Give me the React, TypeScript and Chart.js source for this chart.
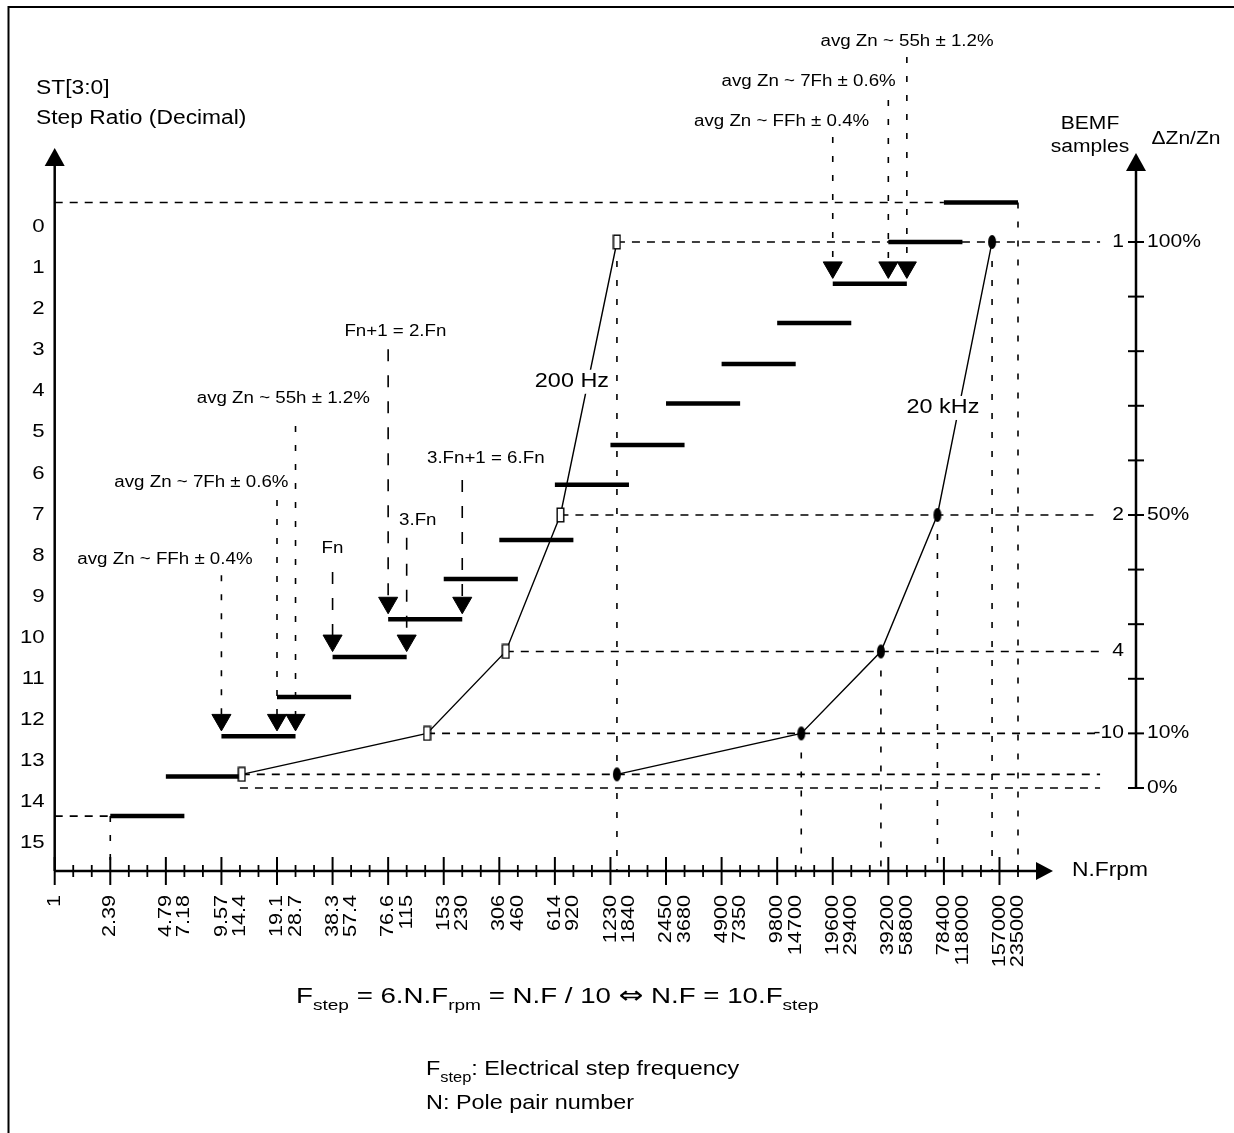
import React, { useEffect, useRef } from "react";
import { Chart, registerables } from "chart.js";

Chart.register(...registerables);

const W = 1234;
const H = 1133;
const FONT = '"Liberation Sans", Arial, Helvetica, sans-serif';
const SYM_FONT = '"DejaVu Sans", sans-serif';
const SX = 1.17;

// ---------------- data ----------------
// x axis (N.Frpm): one unit per minor tick, a major tick every 3 units
const xMajorTicks = [0, 3, 6, 9, 12, 15, 18, 21, 24, 27, 30, 33, 36, 39, 42, 45, 48, 51];
const xMinorTicks = [1, 2, 4, 5, 7, 8, 10, 11, 13, 14, 16, 17, 19, 20, 22, 23, 25, 26, 28, 29, 31, 32, 34, 35, 37, 38, 40, 41, 43, 44, 46, 47, 49, 50, 52];
const xLabelPos = [0, 3, 6, 7, 9, 10, 12, 13, 15, 16, 18, 19, 21, 22, 24, 25, 27, 28, 30, 31, 33, 34, 36, 37, 39, 40, 42, 43, 45, 46, 48, 49, 51, 52];
const xLabels = ["1", "2.39", "4.79", "7.18", "9.57", "14.4", "19.1", "28.7", "38.3", "57.4", "76.6", "115", "153", "230", "306", "460", "614", "920", "1230", "1840", "2450", "3680", "4900", "7350", "9800", "14700", "19600", "29400", "39200", "58800", "78400", "118000", "157000", "235000"];

// left axis ST[3:0]
const stLabelPos = [0, 1, 2, 3, 4, 5, 6, 7, 8, 9, 10, 11, 12, 13, 14, 15];
const stLabels = ["0", "1", "2", "3", "4", "5", "6", "7", "8", "9", "10", "11", "12", "13", "14", "15"];

// step-ratio bars
const stepLevel = [14.34, 13.38, 12.4, 11.44, 10.47, 9.55, 8.57, 7.62, 6.28, 5.31, 4.3, 3.34, 2.34, 1.39, 0.37, -0.59];
const stepFrom = [3, 6, 9, 12, 15, 18, 21, 24, 27, 30, 33, 36, 39, 42, 45, 48];
const stepTo = [7, 10, 13, 16, 19, 22, 25, 28, 31, 34, 37, 40, 43, 46, 49, 52];

// right axis (ΔZn/Zn, %)
const pctTicks = [0, 10, 20, 30, 40, 50, 60, 70, 80, 90, 100];
const pctLabelPos = [100, 50, 10, 0];
const pctLabels = ["100%", "50%", "10%", "0%"];
const bemfPos = [100, 50, 25, 10];
const bemfLabels = ["1", "2", "4", "-10"];

// curves
const curvePct = [2.5, 10, 25, 50, 100];
const curve200Hz = [10.1, 20.1, 24.35, 27.3, 30.35];
const curve20kHz = [30.35, 40.3, 44.6, 47.65, 50.6];

// annotations (arrows onto bars)
const annTexts = ["avg Zn ~ FFh ± 0.4%", "avg Zn ~ 7Fh ± 0.6%", "avg Zn ~ 55h ± 1.2%", "Fn", "3.Fn", "Fn+1 = 2.Fn", "3.Fn+1 = 6.Fn", "avg Zn ~ FFh ± 0.4%", "avg Zn ~ 7Fh ± 0.6%", "avg Zn ~ 55h ± 1.2%"];
const annTargetX = [9, 12, 13, 15, 19, 18, 22, 42, 45, 46];
const annBarIndex = [2, 2, 2, 4, 4, 5, 5, 13, 13, 13];

// ---------------- layout ----------------
const X_MIN = -2.953;
const X_MAX = 63.66;
const Y_MIN = -5.516;
const Y_MAX = 22.051;
const P_MIN = -63.19;
const P_MAX = 144.32;

const X_AXIS_AT = 15.676; // left-scale value of the N.Frpm axis
const LEFT_AXIS_TOP = -1.915;
const X_AXIS_END = 53.89;
const RIGHT_AXIS_AT = 58.37;
const RIGHT_AXIS_TOP = 116.3;
const GUIDE_END = 56.43;
const ARROW_LIFT = 0.4;

// text position / dashed start for each annotation (x units, left-scale units)
const annLayout = [
  { tx: 5.95, ty: 8.11, from: 8.48, dash: [6, 13] },
  { tx: 7.92, ty: 6.23, from: 6.65, dash: [6, 13] },
  { tx: 12.34, ty: 4.19, from: 4.85, dash: [6, 13] },
  { tx: 14.99, ty: 7.82, from: 8.4, dash: [12, 14] },
  { tx: 19.6, ty: 7.14, from: 7.57, dash: [12, 14] },
  { tx: 18.39, ty: 2.56, from: 2.98, dash: [12, 14] },
  { tx: 23.27, ty: 5.65, from: 6.16, dash: [12, 14] },
  { tx: 39.24, ty: -2.55, from: -2.18, dash: [6, 13] },
  { tx: 40.7, ty: -3.53, from: -3.08, dash: [6, 13] },
  { tx: 46.01, ty: -4.5, from: -4.13, dash: [6, 13] },
];

function drawText(
  ctx: CanvasRenderingContext2D,
  s: string,
  x: number,
  y: number,
  size: number,
  align: string = "left",
  baseline: CanvasTextBaseline = "middle",
  sx: number = SX,
  family: string = FONT
) {
  ctx.save();
  ctx.font = `${size}px ${family}`;
  ctx.textBaseline = baseline;
  ctx.textAlign = "left";
  const w = ctx.measureText(s).width * sx;
  const x0 = align === "center" ? x - w / 2 : align === "right" ? x - w : x;
  ctx.translate(x0, y);
  ctx.scale(sx, 1);
  ctx.fillStyle = "#000";
  ctx.fillText(s, 0, 0);
  ctx.restore();
  return w;
}

// runs: [text, kind] where kind 0 = normal, 1 = subscript, 2 = symbol
function drawRuns(
  ctx: CanvasRenderingContext2D,
  parts: [string, number][],
  x: number,
  y: number,
  size: number,
  subSize: number,
  subDrop: number,
  sx: number
) {
  let cx = x;
  for (const [s, kind] of parts) {
    if (kind === 1) cx += drawText(ctx, s, cx, y + subDrop, subSize, "left", "alphabetic", sx);
    else if (kind === 2) cx += drawText(ctx, s, cx, y, size * 1.05, "left", "alphabetic", 1.25, SYM_FONT);
    else cx += drawText(ctx, s, cx, y, size, "left", "alphabetic", sx);
  }
}

const diagramPlugin = {
  id: "diagram",
  beforeDatasetsDraw(chart: any) {
    const ctx: CanvasRenderingContext2D = chart.ctx;
    const X = (v: number) => chart.scales.x.getPixelForValue(v);
    const Y = (v: number) => chart.scales.y.getPixelForValue(v);
    const P = (v: number) => chart.scales.y2.getPixelForValue(v);
    const axisY = Y(X_AXIS_AT);
    ctx.save();
    ctx.strokeStyle = "#000";
    ctx.lineWidth = 1.6;
    const seg = (x1: number, y1: number, x2: number, y2: number, dash: number[]) => {
      ctx.setLineDash(dash);
      ctx.beginPath();
      ctx.moveTo(x1, y1);
      ctx.lineTo(x2, y2);
      ctx.stroke();
    };
    const hd = [8, 7];
    const vd = [6, 13];
    const top = stepLevel.length - 1;
    // horizontal guides
    seg(X(0), Y(stepLevel[top]), X(stepFrom[top]), Y(stepLevel[top]), hd);
    seg(X(0), Y(stepLevel[0]), X(stepFrom[0]), Y(stepLevel[0]), hd);
    curvePct.forEach((p, i) => seg(X(curve200Hz[i]), P(p), X(GUIDE_END), P(p), hd));
    seg(X(stepTo[1]), P(0), X(GUIDE_END), P(0), hd);
    // vertical guides
    seg(X(stepFrom[0]), Y(stepLevel[0]), X(stepFrom[0]), axisY, vd);
    seg(X(stepTo[top]), Y(stepLevel[top]), X(stepTo[top]), axisY, vd);
    seg(X(curve200Hz[4]), P(curvePct[4]), X(curve200Hz[4]), axisY, vd);
    for (let i = 1; i < curve20kHz.length; i++) {
      seg(X(curve20kHz[i]), P(curvePct[i]), X(curve20kHz[i]), axisY, vd);
    }
    // annotation drop lines
    annTargetX.forEach((ax, i) => {
      const lay = annLayout[i];
      seg(X(ax), Y(lay.from), X(ax), Y(stepLevel[annBarIndex[i]] - ARROW_LIFT), lay.dash);
    });
    ctx.restore();
  },
  afterDatasetsDraw(chart: any) {
    const ctx: CanvasRenderingContext2D = chart.ctx;
    const X = (v: number) => chart.scales.x.getPixelForValue(v);
    const Y = (v: number) => chart.scales.y.getPixelForValue(v);
    const P = (v: number) => chart.scales.y2.getPixelForValue(v);
    const axisY = Y(X_AXIS_AT);
    const axisX = X(0);
    const rx = X(RIGHT_AXIS_AT);

    ctx.save();
    ctx.setLineDash([]);
    ctx.strokeStyle = "#000";
    ctx.fillStyle = "#000";

    // frame
    ctx.lineWidth = 2;
    ctx.beginPath();
    ctx.moveTo(8.5, H);
    ctx.lineTo(8.5, 7);
    ctx.lineTo(W, 7);
    ctx.stroke();

    const tri = (pts: number[][]) => {
      ctx.beginPath();
      ctx.moveTo(pts[0][0], pts[0][1]);
      ctx.lineTo(pts[1][0], pts[1][1]);
      ctx.lineTo(pts[2][0], pts[2][1]);
      ctx.closePath();
      ctx.fill();
    };

    // left axis
    const lTop = Y(LEFT_AXIS_TOP);
    ctx.lineWidth = 2.5;
    ctx.beginPath();
    ctx.moveTo(axisX, axisY);
    ctx.lineTo(axisX, lTop + 16);
    ctx.stroke();
    tri([[axisX, lTop], [axisX - 10, lTop + 18], [axisX + 10, lTop + 18]]);

    // x axis
    const xEnd = X(X_AXIS_END);
    ctx.beginPath();
    ctx.moveTo(axisX, axisY);
    ctx.lineTo(xEnd - 14, axisY);
    ctx.stroke();
    tri([[xEnd, axisY], [xEnd - 17, axisY - 9], [xEnd - 17, axisY + 9]]);
    ctx.lineWidth = 2;
    xMajorTicks.forEach((t) => {
      ctx.beginPath();
      ctx.moveTo(X(t), axisY - 14);
      ctx.lineTo(X(t), axisY + 14);
      ctx.stroke();
    });
    ctx.lineWidth = 1.8;
    xMinorTicks.forEach((t) => {
      ctx.beginPath();
      ctx.moveTo(X(t), axisY - 6);
      ctx.lineTo(X(t), axisY + 6);
      ctx.stroke();
    });

    // right axis
    const rTop = P(RIGHT_AXIS_TOP);
    ctx.lineWidth = 2.5;
    ctx.beginPath();
    ctx.moveTo(rx, P(0) + 1);
    ctx.lineTo(rx, rTop + 16);
    ctx.stroke();
    tri([[rx, rTop], [rx - 10, rTop + 18], [rx + 10, rTop + 18]]);
    ctx.lineWidth = 2;
    pctTicks.forEach((t) => {
      ctx.beginPath();
      ctx.moveTo(rx - 8, P(t));
      ctx.lineTo(rx + 8, P(t));
      ctx.stroke();
    });

    // left tick labels
    stLabelPos.forEach((v, i) => drawText(ctx, stLabels[i], axisX - 10, Y(v), 19, "right"));

    // x tick labels (rotated)
    xLabelPos.forEach((v, i) => {
      ctx.save();
      ctx.font = `18.5px ${FONT}`;
      ctx.translate(X(v), axisY + 24);
      ctx.rotate(-Math.PI / 2);
      ctx.scale(SX, 1);
      ctx.textAlign = "right";
      ctx.textBaseline = "middle";
      ctx.fillStyle = "#000";
      ctx.fillText(xLabels[i], 0, 0);
      ctx.restore();
    });

    // right labels
    bemfPos.forEach((v, i) => drawText(ctx, bemfLabels[i], rx - 12, P(v), 18, "right"));
    pctLabelPos.forEach((v, i) => drawText(ctx, pctLabels[i], rx + 11, P(v), 18, "left"));

    // axis titles
    drawText(ctx, "ST[3:0]", 36, 89, 19.5);
    drawText(ctx, "Step Ratio (Decimal)", 36, 119, 19.5);
    drawText(ctx, "BEMF", 1090, 124, 18, "center");
    drawText(ctx, "samples", 1090, 147, 18, "center");
    drawText(ctx, "\u0394Zn/Zn", 1186, 139, 18, "center");
    drawText(ctx, "N.Frpm", 1072, axisY, 19.5);

    // annotations
    annTexts.forEach((s, i) => {
      const lay = annLayout[i];
      drawText(ctx, s, X(lay.tx), Y(lay.ty), 16, "center");
    });

    // curve labels with white knock-out
    const curveLabel = (s: string, xv: number, pv: number) => {
      ctx.save();
      ctx.font = `20px ${FONT}`;
      const w = ctx.measureText(s).width * SX;
      ctx.fillStyle = "#fff";
      ctx.fillRect(X(xv) - w / 2 - 2, P(pv) - 12, w + 4, 24);
      ctx.restore();
      drawText(ctx, s, X(xv), P(pv), 20, "center");
    };
    curveLabel("200 Hz", 27.92, 74.4);
    curveLabel("20 kHz", 47.95, 69.6);

    // formula and notes
    drawRuns(
      ctx,
      [
        ["F", 0],
        ["step", 1],
        [" = 6.N.F", 0],
        ["rpm", 1],
        [" = N.F / 10 ", 0],
        ["\u21D4", 2],
        [" N.F = 10.F", 0],
        ["step", 1],
      ],
      296,
      1003,
      22.5,
      15.5,
      7,
      1.23
    );
    drawRuns(ctx, [["F", 0], ["step", 1], [": Electrical step frequency", 0]], 426, 1075, 20, 14, 7, SX);
    drawRuns(ctx, [["N: Pole pair number", 0]], 426, 1109, 20, 14, 7, SX);

    ctx.restore();
  },
};

export default function App() {
  const ref = useRef<HTMLCanvasElement>(null);
  useEffect(() => {
    const canvas = ref.current;
    if (!canvas) return;

    const rectMarker = document.createElement("canvas");
    rectMarker.width = 9;
    rectMarker.height = 16;
    {
      const c = rectMarker.getContext("2d")!;
      c.fillStyle = "#fff";
      c.fillRect(1, 1, 7, 14);
      c.strokeStyle = "#000";
      c.lineWidth = 1.4;
      c.strokeRect(1.2, 1.2, 6.6, 13.6);
    }
    const dotMarker = document.createElement("canvas");
    dotMarker.width = 10;
    dotMarker.height = 16;
    {
      const c = dotMarker.getContext("2d")!;
      c.fillStyle = "#000";
      c.beginPath();
      c.ellipse(5, 8, 4, 7, 0, 0, Math.PI * 2);
      c.fill();
    }

    const datasets: any[] = [];
    stepLevel.forEach((lv, i) => {
      datasets.push({
        type: "line",
        data: [
          { x: stepFrom[i], y: lv },
          { x: stepTo[i], y: lv },
        ],
        yAxisID: "y",
        borderColor: "#000",
        borderWidth: 4.5,
        borderCapStyle: "butt",
        pointRadius: 0,
        order: 3,
      });
    });
    datasets.push({
      type: "line",
      label: "200 Hz",
      data: curvePct.map((p, i) => ({ x: curve200Hz[i], y: p })),
      yAxisID: "y2",
      borderColor: "#000",
      borderWidth: 1.4,
      pointStyle: rectMarker,
      pointRadius: 6,
      order: 2,
    });
    datasets.push({
      type: "line",
      label: "20 kHz",
      data: curvePct.map((p, i) => ({ x: curve20kHz[i], y: p })),
      yAxisID: "y2",
      borderColor: "#000",
      borderWidth: 1.4,
      pointStyle: dotMarker,
      pointRadius: 6,
      order: 2,
    });
    datasets.push({
      type: "scatter",
      data: annTargetX.map((x, i) => ({ x, y: stepLevel[annBarIndex[i]] - ARROW_LIFT })),
      yAxisID: "y",
      pointStyle: "triangle",
      pointRotation: 180,
      pointRadius: 11,
      backgroundColor: "#000",
      borderColor: "#000",
      borderWidth: 1,
      showLine: false,
      order: 1,
    });

    const chart = new Chart(canvas, {
      type: "line",
      data: { datasets },
      options: {
        animation: false,
        responsive: false,
        events: [],
        layout: { padding: 0, autoPadding: false },
        plugins: {
          legend: { display: false },
          tooltip: { enabled: false },
          title: { display: false },
        },
        scales: {
          x: { type: "linear", min: X_MIN, max: X_MAX, display: false },
          y: { type: "linear", min: Y_MIN, max: Y_MAX, reverse: true, display: false },
          y2: { type: "linear", min: P_MIN, max: P_MAX, display: false },
        },
      } as any,
      plugins: [diagramPlugin as any],
    });
    return () => chart.destroy();
  }, []);

  return (
    <div style={{ position: "absolute", left: 0, top: 0, width: W, height: H, background: "#fff" }}>
      <canvas ref={ref} width={W} height={H} style={{ display: "block", width: W, height: H }} />
    </div>
  );
}
